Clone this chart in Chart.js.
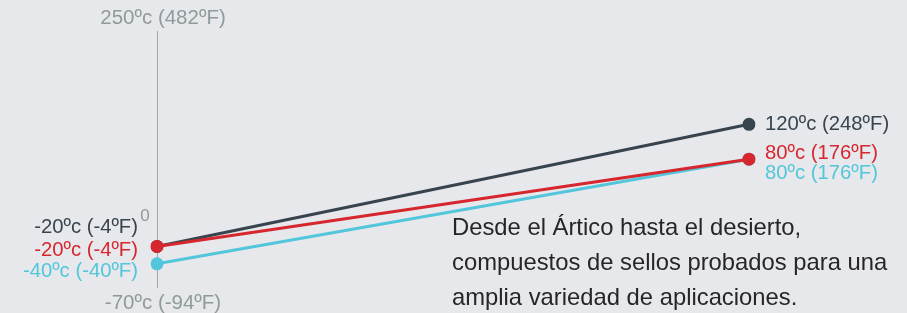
<!DOCTYPE html>
<html>
<head>
<meta charset="utf-8">
<script src="https://cdn.jsdelivr.net/npm/chart.js@4.4.1/dist/chart.umd.min.js"></script>
<style>
  html, body { margin: 0; padding: 0; background: #e7e8ec; }
  #wrap { position: relative; width: 907px; height: 313px; overflow: hidden; }
  canvas { position: absolute; left: 0; top: 0; }
  #note { position: absolute; left: 452px; top: 209px; font-family: "Liberation Sans", Arial, sans-serif;
          font-size: 23.8px; line-height: 35px; color: #262626; white-space: nowrap; }
</style>
</head>
<body>
<div id="wrap">
  <canvas id="c" width="907" height="313"></canvas>
  <div id="note">Desde el Ártico hasta el desierto,<br>compuestos de sellos probados para una<br>amplia variedad de aplicaciones.</div>
</div>
<script>
// ---- data ----
const categories = ['min', 'max'];
const seriesNames = ['Rojo', 'Oscuro', 'Cian'];
const redValues = [-20, 80];
const darkValues = [-20, 120];
const cyanValues = [-40, 80];
const yTickValues = [250, 0, -70];
const yTickLabels = ['250ºc (482ºF)', '0', '-70ºc (-94ºF)'];

const colors = { red: '#d6272f', dark: '#37444e', cyan: '#52c6da', gray: '#8e9b9b' };
const FONT = '"Liberation Sans", Arial, sans-serif';

function fmt(v) { return v + 'ºc (' + Math.round(v * 9 / 5 + 32) + 'ºF)'; }

// label offsets [left dx, left dy, right dx, right dy] per dataset
const labelOffsets = [
  [-19, 4, 16, -6],   // red
  [-19, -19, 16, 0],  // dark
  [-19, 8, 16, 14]    // cyan
];

const overlay = {
  id: 'overlay',
  beforeDatasetsDraw(chart) {
    const ctx = chart.ctx, ca = chart.chartArea;
    const x0 = chart.scales.x.getPixelForValue(0);
    ctx.save();
    ctx.strokeStyle = '#9ea8a8';
    ctx.lineWidth = 1;
    ctx.beginPath();
    ctx.moveTo(Math.round(x0) + 0.5, ca.top + 20);
    ctx.lineTo(Math.round(x0) + 0.5, ca.bottom - 2);
    ctx.stroke();
    // y tick labels
    const ys = chart.scales.y;
    ctx.fillStyle = colors.gray;
    ctx.textBaseline = 'middle';
    yTickValues.forEach((v, i) => {
      const py = ys.getPixelForValue(v);
      if (v === 0) {
        ctx.font = '17px ' + FONT;
        ctx.textAlign = 'center';
        ctx.fillText(yTickLabels[i], x0 - 12, py - 13);
      } else {
        ctx.font = '20.5px ' + FONT;
        ctx.textAlign = 'center';
        ctx.fillText(yTickLabels[i], x0 + 6, py + (v > 0 ? 7 : 13));
      }
    });
    ctx.restore();
  },
  afterDatasetsDraw(chart) {
    const ctx = chart.ctx;
    ctx.save();
    ctx.font = '20.3px ' + FONT;
    ctx.textBaseline = 'middle';
    chart.data.datasets.forEach((ds, di) => {
      const meta = chart.getDatasetMeta(di);
      const off = labelOffsets[di];
      ctx.fillStyle = ds.borderColor;
      const p0 = meta.data[0], p1 = meta.data[1];
      ctx.textAlign = 'right';
      ctx.fillText(fmt(ds.data[0]), p0.x + off[0], p0.y + off[1]);
      ctx.textAlign = 'left';
      ctx.fillText(fmt(ds.data[1]), p1.x + off[2], p1.y + off[3]);
    });
    ctx.restore();
  }
};

const mk = (label, data, color) => ({
  label, data, borderColor: color, backgroundColor: color,
  borderWidth: 3, pointRadius: 6.5, pointBorderWidth: 0, pointHoverRadius: 6.5, tension: 0
});

new Chart(document.getElementById('c'), {
  type: 'line',
  data: {
    labels: categories,
    datasets: [
      mk(seriesNames[0], redValues, colors.red),
      mk(seriesNames[1], darkValues, colors.dark),
      mk(seriesNames[2], cyanValues, colors.cyan)
    ]
  },
  options: {
    responsive: false,
    animation: false,
    layout: { padding: { left: 157, right: 158, top: 11, bottom: 23 } },
    plugins: { legend: { display: false }, tooltip: { enabled: false } },
    scales: {
      x: { display: false, offset: false },
      y: { display: false, min: -70, max: 250 }
    }
  },
  plugins: [overlay]
});
</script>
</body>
</html>
